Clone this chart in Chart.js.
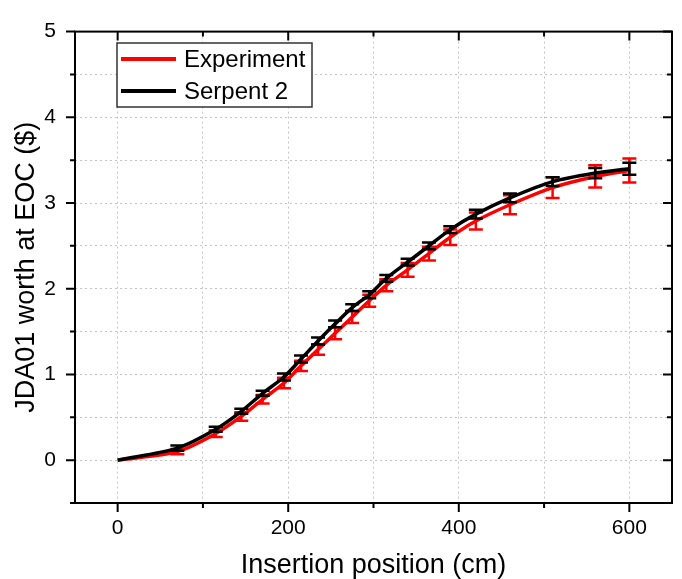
<!DOCTYPE html>
<html>
<head>
<meta charset="utf-8">
<script src="https://cdn.jsdelivr.net/npm/chart.js@4.4.1/dist/chart.umd.min.js"></script>
<style>
    html, body { margin: 0; padding: 0; background: #fff; }
    #wrap { width: 682px; height: 579px; }
</style>
</head>
<body>
<div id="wrap"><canvas id="chart" width="682" height="579"></canvas></div>
<script>
// Insertion positions (cm)
var positions = [0, 70, 115, 145, 170, 195, 215, 235, 255, 275, 295, 315, 340, 365, 390, 420, 460, 510, 560, 600];

// Experiment
var experiment = [0, 0.10, 0.31, 0.51, 0.71, 0.90, 1.10, 1.29, 1.48, 1.67, 1.86, 2.04, 2.22, 2.41, 2.60, 2.79, 2.98, 3.18, 3.31, 3.38];
var experimentErr = [0, 0.03, 0.04, 0.05, 0.05, 0.06, 0.06, 0.06, 0.07, 0.07, 0.07, 0.07, 0.08, 0.08, 0.09, 0.10, 0.11, 0.12, 0.13, 0.14];

// Serpent 2
var serpent = [0, 0.14, 0.36, 0.57, 0.78, 0.97, 1.18, 1.39, 1.59, 1.78, 1.93, 2.12, 2.31, 2.50, 2.69, 2.87, 3.06, 3.25, 3.35, 3.40];
var serpentErr = [0, 0.03, 0.03, 0.03, 0.03, 0.04, 0.04, 0.04, 0.04, 0.04, 0.04, 0.04, 0.04, 0.04, 0.04, 0.05, 0.05, 0.05, 0.06, 0.07];

// Ticks
var xTicks = [0, 100, 200, 300, 400, 500, 600];
var xLabels = [0, 200, 400, 600];
var yTicks = [-0.5, 0, 0.5, 1, 1.5, 2, 2.5, 3, 3.5, 4, 4.5, 5];
var yLabels = [0, 1, 2, 3, 4, 5];

var FONT = '"Liberation Sans", Arial, sans-serif';

function pts(xs, ys) {
    return xs.map(function (x, i) { return { x: x, y: ys[i] }; });
}

// error bars, drawn right after each dataset
var errorBars = {
    id: 'errorBars',
    afterDatasetDraw: function (chart, args) {
        var ds = chart.data.datasets[args.index];
        if (!ds.errors) return;
        var meta = chart.getDatasetMeta(args.index);
        var ys = chart.scales.y;
        var ctx = chart.ctx;
        ctx.save();
        ctx.strokeStyle = ds.borderColor;
        ctx.lineWidth = 2.5;
        meta.data.forEach(function (pt, i) {
            var e = ds.errors[i];
            if (!e) return;
            var v = ds.data[i].y;
            var top = ys.getPixelForValue(v + e);
            var bot = ys.getPixelForValue(v - e);
            ctx.beginPath();
            ctx.moveTo(pt.x, top); ctx.lineTo(pt.x, bot);
            ctx.moveTo(pt.x - 7, top); ctx.lineTo(pt.x + 7, top);
            ctx.moveTo(pt.x - 7, bot); ctx.lineTo(pt.x + 7, bot);
            ctx.stroke();
        });
        ctx.restore();
    }
};

// frame, tick marks and legend box
var frame = {
    id: 'frame',
    afterDraw: function (chart) {
        var ctx = chart.ctx;
        var a = chart.chartArea;
        var xs = chart.scales.x, ys = chart.scales.y;
        ctx.save();
        ctx.strokeStyle = '#000';
        ctx.lineWidth = 2;
        ctx.strokeRect(a.left, a.top, a.right - a.left, a.bottom - a.top);

        ctx.beginPath();
        xTicks.forEach(function (v) {
            var p = xs.getPixelForValue(v);
            var len = xLabels.indexOf(v) >= 0 ? 9 : 5;
            ctx.moveTo(p, a.bottom); ctx.lineTo(p, a.bottom + len);
            ctx.moveTo(p, a.top); ctx.lineTo(p, a.top + len);
        });
        yTicks.forEach(function (v) {
            var p = ys.getPixelForValue(v);
            var len = yLabels.indexOf(v) >= 0 ? 9 : 5;
            ctx.moveTo(a.left, p); ctx.lineTo(a.left - len, p);
            ctx.moveTo(a.right, p); ctx.lineTo(a.right - len, p);
        });
        ctx.stroke();

        // legend
        var lx = 117, ly = 43, lw = 195, lh = 64;
        ctx.fillStyle = '#fff';
        ctx.fillRect(lx, ly, lw, lh);
        ctx.strokeStyle = '#333';
        ctx.lineWidth = 1.5;
        ctx.strokeRect(lx, ly, lw, lh);
        ctx.font = '24px ' + FONT;
        ctx.textBaseline = 'middle';
        chart.data.datasets.forEach(function (ds, i) {
            var y = ly + 16 + i * 32;
            ctx.strokeStyle = ds.borderColor;
            ctx.lineWidth = 4;
            ctx.beginPath();
            ctx.moveTo(lx + 4, y); ctx.lineTo(lx + 59, y);
            ctx.stroke();
            ctx.fillStyle = '#000';
            ctx.fillText(ds.label, lx + 67, y + 1);
        });
        ctx.restore();
    }
};

var ctx = document.getElementById('chart').getContext('2d');
var chart = new Chart(ctx, {
    type: 'line',
    data: {
        datasets: [{
            label: 'Experiment',
            data: pts(positions, experiment),
            errors: experimentErr,
            borderColor: '#ff0000',
            borderWidth: 3.5,
            pointRadius: 0,
            tension: 0.3,
            order: 1
        }, {
            label: 'Serpent 2',
            data: pts(positions, serpent),
            errors: serpentErr,
            borderColor: '#000000',
            borderWidth: 3.5,
            pointRadius: 0,
            tension: 0.3,
            order: 0
        }]
    },
    options: {
        responsive: false,
        animation: false,
        layout: { autoPadding: false, padding: { top: 18, right: 10, left: 0, bottom: 0 } },
        plugins: { legend: { display: false }, tooltip: { enabled: false } },
        scales: {
            x: {
                type: 'linear',
                min: -50,
                max: 650,
                afterBuildTicks: function (s) { s.ticks = xTicks.map(function (v) { return { value: v }; }); },
                afterFit: function (s) { s.height = 76; },
                grid: { color: '#c4c4c4', lineWidth: 1, drawTicks: false },
                border: { display: false, dash: [2, 3] },
                ticks: {
                    padding: 13,
                    maxRotation: 0,
                    autoSkip: false,
                    color: '#000',
                    font: { family: FONT, size: 21 },
                    callback: function (v) { return xLabels.indexOf(v) >= 0 ? String(v) : ''; }
                },
                title: {
                    display: true,
                    text: 'Insertion position (cm)',
                    color: '#000',
                    font: { family: FONT, size: 27, lineHeight: 1 },
                    padding: { top: 0, bottom: 0 }
                }
            },
            y: {
                type: 'linear',
                min: -0.5,
                max: 5,
                afterBuildTicks: function (s) { s.ticks = yTicks.map(function (v) { return { value: v }; }); },
                afterFit: function (s) { s.width = 75; },
                grid: { color: '#c4c4c4', lineWidth: 1, drawTicks: false },
                border: { display: false, dash: [2, 3] },
                ticks: {
                    padding: 19,
                    autoSkip: false,
                    color: '#000',
                    font: { family: FONT, size: 21 },
                    callback: function (v) { return yLabels.indexOf(v) >= 0 ? String(v) : ''; }
                },
                title: {
                    display: true,
                    text: 'JDA01 worth at EOC ($)',
                    color: '#000',
                    font: { family: FONT, size: 27, lineHeight: 1 },
                    padding: { top: 13, bottom: 0 }
                }
            }
        }
    },
    plugins: [errorBars, frame]
});
</script>
</body>
</html>
